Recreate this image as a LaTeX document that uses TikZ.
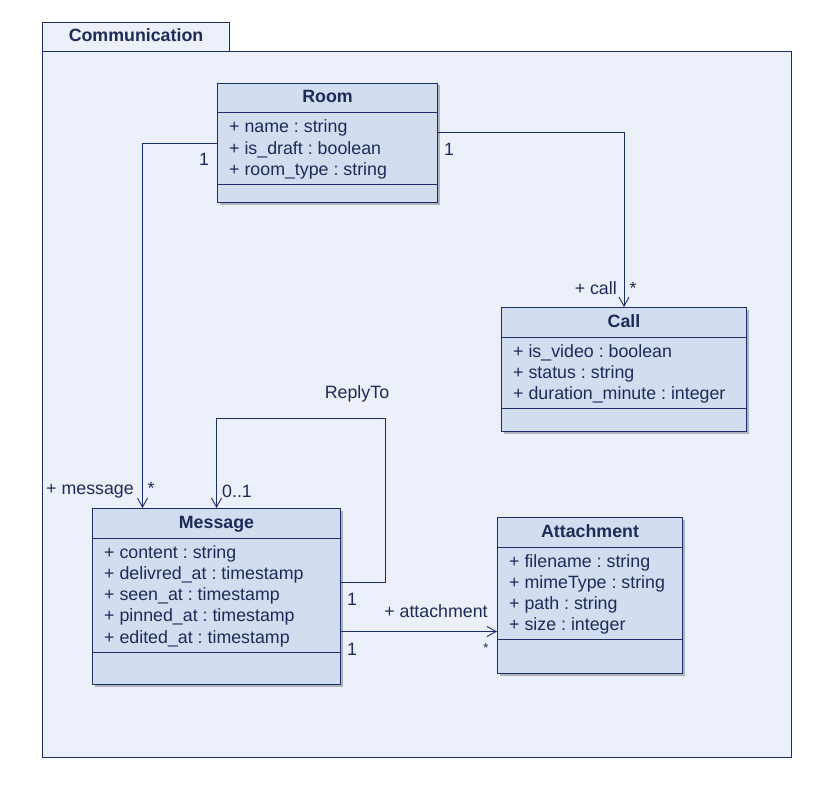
\documentclass[tikz,border=0pt]{standalone}
\usepackage{fontspec}
\setmainfont{Liberation Sans}
\usepackage{tikz}
\usetikzlibrary{arrows.meta,positioning,shadows}
\frenchspacing

\definecolor{pkgfill}{RGB}{235,240,250}
\definecolor{clsfill}{RGB}{210,221,240}
\definecolor{umlline}{RGB}{28,45,105}
\definecolor{umltext}{RGB}{30,42,90}

\newcommand{\umlfont}{\fontsize{17.8}{21}\selectfont}

% class box: name, x, y, width, height, title, attributes
\newcommand{\umlclass}[7]{%
  \node[cls, minimum width=#4pt, minimum height=#5pt] (#1) at (#2,#3) {};
  \node[ctitle] (#1-title) at ([yshift=-20pt]#1.north) {#6};
  \draw[sep] ([yshift=-30pt]#1.north west) -- ([yshift=-30pt]#1.north east);
  \foreach \t [count=\i from 0] in {#7} {
    \node[attr] (#1-a\i) at ([xshift=12pt,yshift={-50pt-21.25pt*\i}]#1.north west) {\t};
    \xdef\umllast{\i}
  }
  \coordinate (#1-sep) at ([yshift=-9pt]#1-a\umllast.base);
  \draw[sep] (#1.west |- #1-sep) -- (#1.east |- #1-sep);
}

\tikzset{
  pkgbox/.style={draw=umlline, fill=pkgfill, line width=1pt, anchor=north west, inner sep=0pt},
  cls/.style={draw=umlline, fill=clsfill, line width=1pt, anchor=north west, inner sep=0pt,
    drop shadow={shadow xshift=2pt, shadow yshift=-2pt, fill=black, opacity=0.25}},
  ctitle/.style={font=\umlfont\bfseries, text=umltext, inner sep=0pt, anchor=base},
  attr/.style={font=\umlfont, text=umltext, inner sep=0pt, anchor=base west},
  sep/.style={draw=umlline, line width=1pt},
  lbl/.style={font=\umlfont, text=umltext, inner sep=0pt, anchor=base},
  assoc/.style={draw=umlline, line width=0.9pt, ->, >={Straight Barb[length=9pt,width=10pt]}}
}

\begin{document}
\begin{tikzpicture}[x=1pt, y=-1pt]
  \useasboundingbox[fill=white] (0,0) rectangle (835,797);

  % package
  \node[pkgbox, minimum width=749pt, minimum height=706pt] (pkg) at (42,51) {};
  \node[pkgbox, minimum width=187pt, minimum height=29pt] (pkg-tab) at (42,22) {};
  \node[ctitle] (pkg-name) at ([yshift=-20pt]pkg-tab.north) {Communication};

  % classes
  \umlclass{room}{217}{83}{220}{119}{Room}%
    {+ name : string, + is\_draft : boolean, + room\_type : string}
  \umlclass{call}{501}{307}{245}{124}{Call}%
    {+ is\_video : boolean, + status : string, + duration\_minute : integer}
  \umlclass{message}{92}{508}{248}{176}{Message}%
    {+ content : string, + delivred\_at : timestamp, + seen\_at : timestamp,
     + pinned\_at : timestamp, + edited\_at : timestamp}
  \umlclass{attachment}{497}{517}{185}{156}{Attachment}%
    {+ filename : string, + mimeType : string, + path : string, + size : integer}

  % associations
  \draw[assoc] (room.west) -| ([xshift=-74pt]message.north);
  \node[lbl] (room-m1) at (204,165) {1};
  \node[lbl, anchor=base east] (message-role) at (134,494) {+ message};
  \node[lbl] (message-mult) at (151,494) {*};

  \draw[assoc] ([yshift=10.5pt]room.east) -| (call.north);
  \node[lbl] (room-c1) at (449,156) {1};
  \node[lbl, anchor=base east] (call-role) at (617,294) {+ call};
  \node[lbl] (call-mult) at (633,294) {*};

  \coordinate (reply-bend) at (385,418);
  \draw[assoc] ([yshift=14pt]message.east) -| (reply-bend) -| (message.north);
  \node[lbl] (reply-name) at (357,398) {ReplyTo};
  \node[lbl, anchor=base west] (reply-mult) at (222,497) {0..1};
  \node[lbl] (reply-one) at (352,605) {1};

  \draw[assoc] ([yshift=-35pt]message.east) -- ([yshift=-35pt]message.east -| attachment.west);
  \node[lbl] (attach-role) at (436,617) {+ attachment};
  \node[lbl, font=\fontsize{13}{15}\selectfont] (attach-mult) at (486,652) {*};
  \node[lbl] (attach-one) at (352,655) {1};
\end{tikzpicture}
\end{document}
